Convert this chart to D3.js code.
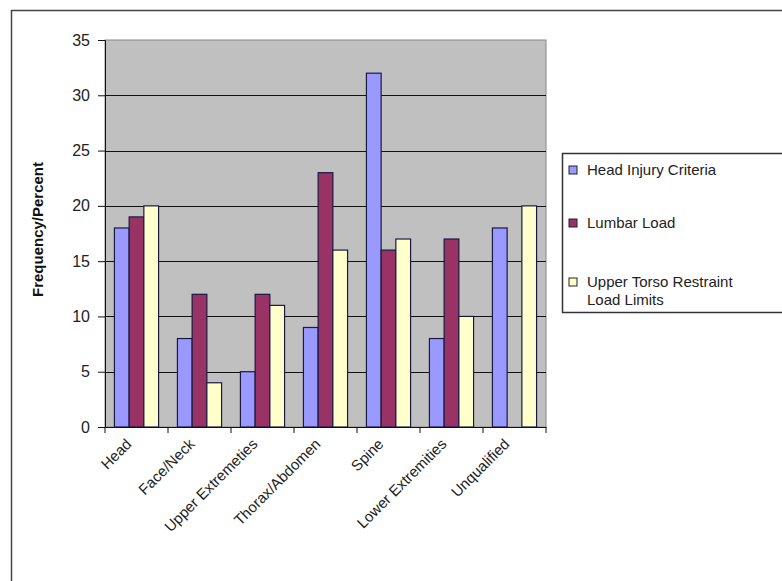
<!DOCTYPE html>
<html>
<head>
<meta charset="utf-8">
<script src="https://cdn.jsdelivr.net/npm/d3@7"></script>
<style>
  body { margin: 0; background: #fff; }
  text { font-family: Arial, "Liberation Sans", sans-serif; }
</style>
</head>
<body>
<div id="chart-area"></div>
<script>
// data
const categories = ["Head", "Face/Neck", "Upper Extremeties", "Thorax/Abdomen", "Spine", "Lower Extremities", "Unqualified"]
const seriesNames = ["Head Injury Criteria", "Lumbar Load", "Upper Torso Restraint Load Limits"]
const headInjury = [18, 8, 5, 9, 32, 8, 18]
const lumbarLoad = [19, 12, 12, 23, 16, 17, 0]
const torsoRestraint = [20, 4, 11, 16, 17, 10, 20]
const yTicks = [0, 5, 10, 15, 20, 25, 30, 35]
const colors = ["#9999ff", "#993366", "#ffffcc"]

const W = 782, H = 581
const MARGIN = {LEFT: 105, TOP: 40}
const PW = 441, PH = 387

const svg = d3.select("#chart-area").append("svg")
	.attr("width", W)
	.attr("height", H)

// outer frame (runs off the right / bottom)
svg.append("rect")
	.attr("x", 11.5).attr("y", 10.5)
	.attr("width", W + 10).attr("height", H + 10)
	.attr("fill", "none")
	.attr("stroke", "#444")
	.attr("stroke-width", 1.5)

const g = svg.append("g")
	.attr("transform", `translate(${MARGIN.LEFT}, ${MARGIN.TOP})`)

const x0 = d3.scaleBand()
	.domain(categories)
	.range([0, PW])

const x1 = d3.scaleBand()
	.domain(seriesNames)
	.range([0, x0.bandwidth()])
	.paddingOuter(0.64)

const y = d3.scaleLinear()
	.domain([0, 35])
	.range([PH, 0])

// plot background
g.append("rect")
	.attr("width", PW).attr("height", PH)
	.attr("fill", "#c0c0c0")
	.attr("stroke", "#888")

// gridlines
g.selectAll(".grid")
	.data(yTicks.filter(d => d > 0 && d < 35))
	.enter().append("line")
	.attr("x1", 0).attr("x2", PW)
	.attr("y1", d => Math.round(y(d)) + 0.5)
	.attr("y2", d => Math.round(y(d)) + 0.5)
	.attr("stroke", "#111")

// bars
const table = categories.map((c, i) => ({
	cat: c,
	vals: [headInjury[i], lumbarLoad[i], torsoRestraint[i]]
}))

const groups = g.selectAll(".grp")
	.data(table)
	.enter().append("g")
	.attr("transform", d => `translate(${x0(d.cat)}, 0)`)

groups.selectAll("rect")
	.data(d => d.vals.map((v, k) => ({name: seriesNames[k], v: v, k: k})).filter(d => d.v > 0))
	.enter().append("rect")
	.attr("x", d => x1(d.name))
	.attr("y", d => y(d.v))
	.attr("width", x1.bandwidth())
	.attr("height", d => PH - y(d.v))
	.attr("fill", d => colors[d.k])
	.attr("stroke", "#1a1a40")
	.attr("stroke-width", 1.2)

// Y axis
const yAxisCall = d3.axisLeft(y)
	.tickValues(yTicks)
	.tickSize(7)
	.tickPadding(8)
const yAx = g.append("g")
	.attr("class", "y axis")
	.call(yAxisCall)
yAx.select(".domain").attr("stroke", "#111")
yAx.selectAll("line").attr("stroke", "#111")
yAx.selectAll("text")
	.attr("font-size", "16px")
	.attr("fill", "#222")

// X axis
const xAxisCall = d3.axisBottom(x0)
	.tickSize(0)
const xAx = g.append("g")
	.attr("class", "x axis")
	.attr("transform", `translate(0, ${PH})`)
	.call(xAxisCall)
xAx.select(".domain").attr("stroke", "#111")
xAx.selectAll("text")
	.attr("font-size", "15px")
	.attr("fill", "#222")
	.attr("text-anchor", "end")
	.attr("x", 0)
	.attr("y", 0)
	.attr("dy", "0")
	.attr("transform", "translate(-4, 18) rotate(-45)")

// category separators on the x axis
xAx.selectAll(".sep")
	.data(categories.concat(["end"]))
	.enter().append("line")
	.attr("x1", (d, i) => i * x0.bandwidth())
	.attr("x2", (d, i) => i * x0.bandwidth())
	.attr("y1", 0).attr("y2", 6)
	.attr("stroke", "#111")

// Y label
g.append("text")
	.attr("x", -(PH / 2) + 4)
	.attr("y", -62)
	.attr("font-size", "15px")
	.attr("font-weight", "bold")
	.attr("text-anchor", "middle")
	.attr("transform", "rotate(-90)")
	.attr("fill", "#111")
	.text("Frequency/Percent")

// legend
const legend = svg.append("g")
	.attr("transform", "translate(562, 153)")
legend.append("rect")
	.attr("x", 0.5).attr("y", 0.5)
	.attr("width", 240).attr("height", 159)
	.attr("fill", "#fff")
	.attr("stroke", "#333")
	.attr("stroke-width", 1.5)

const legendRows = [[seriesNames[0]], [seriesNames[1]], ["Upper Torso Restraint", "Load Limits"]]
const rowY = [17, 70, 129]
legendRows.forEach((lines, i) => {
	legend.append("rect")
		.attr("x", 7).attr("y", rowY[i] - 4)
		.attr("width", 8).attr("height", 8)
		.attr("fill", colors[i])
		.attr("stroke", "#222")
	lines.forEach((t, j) => {
		legend.append("text")
			.attr("x", 25)
			.attr("y", rowY[i] + j * 18)
			.attr("dy", "0.36em")
			.attr("font-size", "15px")
			.attr("fill", "#222")
			.text(t)
	})
})
</script>
</body>
</html>
